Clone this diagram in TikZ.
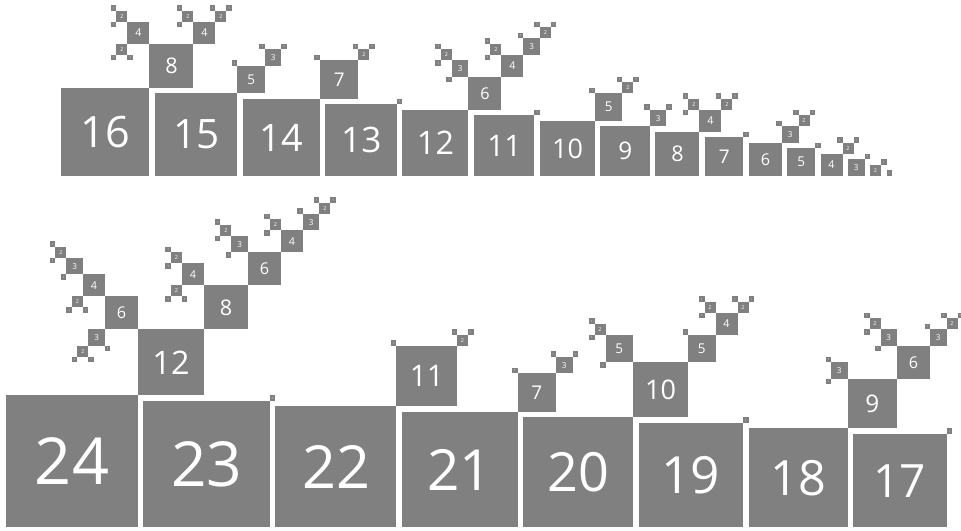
\documentclass[tikz,border=0pt]{standalone}
\usepackage{fontspec}
\setmainfont{Open Sans}
\usepackage{tikz}

\newcount\sqid
\newcount\dv
\tikzset{sq/.style={fill=gray, text=white, inner sep=0pt, outer sep=0pt}}

% next divisor of #3 below #2, stored in #1
\newcommand\nextdiv[3]{%
  \dv=\numexpr#2-1\relax
  \loop
    \pgfmathtruncatemacro\dvrem{mod(#3,\the\dv)}%
    \ifnum\dvrem>0 \advance\dv by -1
  \repeat
  \edef#1{\the\dv}}

% square #1 (a divisor of #2) hung on corner (#3,#4), growing along (#5,#6)
\newcommand\sqtree[6]{%
  \begingroup
  \global\advance\sqid by 1
  \pgfmathsetmacro\cx{#3+(#5)*#1/2}%
  \pgfmathsetmacro\cy{#4+(#6)*#1/2}%
  \pgfmathsetmacro\fsz{2.7*#1}%
  \node[sq, minimum size=#1*5.5pt, font=\fontsize{\fsz}{\fsz}\selectfont]
    (sq\the\sqid) at (\cx,\cy) {#1};
  \ifnum#1>1
    \nextdiv\sval{#1}{#2}%
    \nextdiv\tval{#1}{#1}%
    \pgfmathsetmacro\sx{#3+(#5)*#1}%
    \pgfmathsetmacro\sy{#4+(#6)*#1}%
    \pgfmathsetmacro\tx{#3+((#5)-(#6))*#1/2}%
    \pgfmathsetmacro\ty{#4+((#5)+(#6))*#1/2}%
    \pgfmathtruncatemacro\tdx{-(#6)}%
    \edef\sqnext{\noexpand\sqtree{\tval}{#1}{\tx}{\ty}{\tdx}{#5}%
      \noexpand\sqtree{\sval}{#2}{\sx}{\sy}{#5}{#6}}%
    \sqnext
  \fi
  \endgroup}

% root square #1 with lower left corner (#2,#3)
\newcommand\sqroot[3]{%
  \begingroup
  \pgfmathsetmacro\fsz{2.7*#1}%
  \node[sq, minimum size=#1*5.5pt, font=\fontsize{\fsz}{\fsz}\selectfont]
    (n#1) at ({#2+#1/2},{#3+#1/2}) {#1};
  \ifnum#1>1
    \nextdiv\sval{#1}{#1}%
    \pgfmathsetmacro\sx{#2+#1}%
    \pgfmathsetmacro\sy{#3+#1}%
    \edef\sqnext{\noexpand\sqtree{\sval}{#1}{\sx}{\sy}{1}{1}}%
    \sqnext
  \fi
  \endgroup}

\begin{document}
\begin{tikzpicture}[x=5.5pt, y=5.5pt]
  \useasboundingbox (0,0) rectangle (174.727,96.545);

  % lower row
  \foreach \n in {24,...,17}{
    \pgfmathsetmacro\xr{1.09+324-\n-\n*(\n+1)/2}
    \sqroot{\n}{\xr}{0.64}}

  % upper row
  \foreach \n in {16,...,1}{
    \pgfmathsetmacro\xr{11.18+152-\n-\n*(\n+1)/2}
    \sqroot{\n}{\xr}{64.55}}
\end{tikzpicture}
\end{document}
